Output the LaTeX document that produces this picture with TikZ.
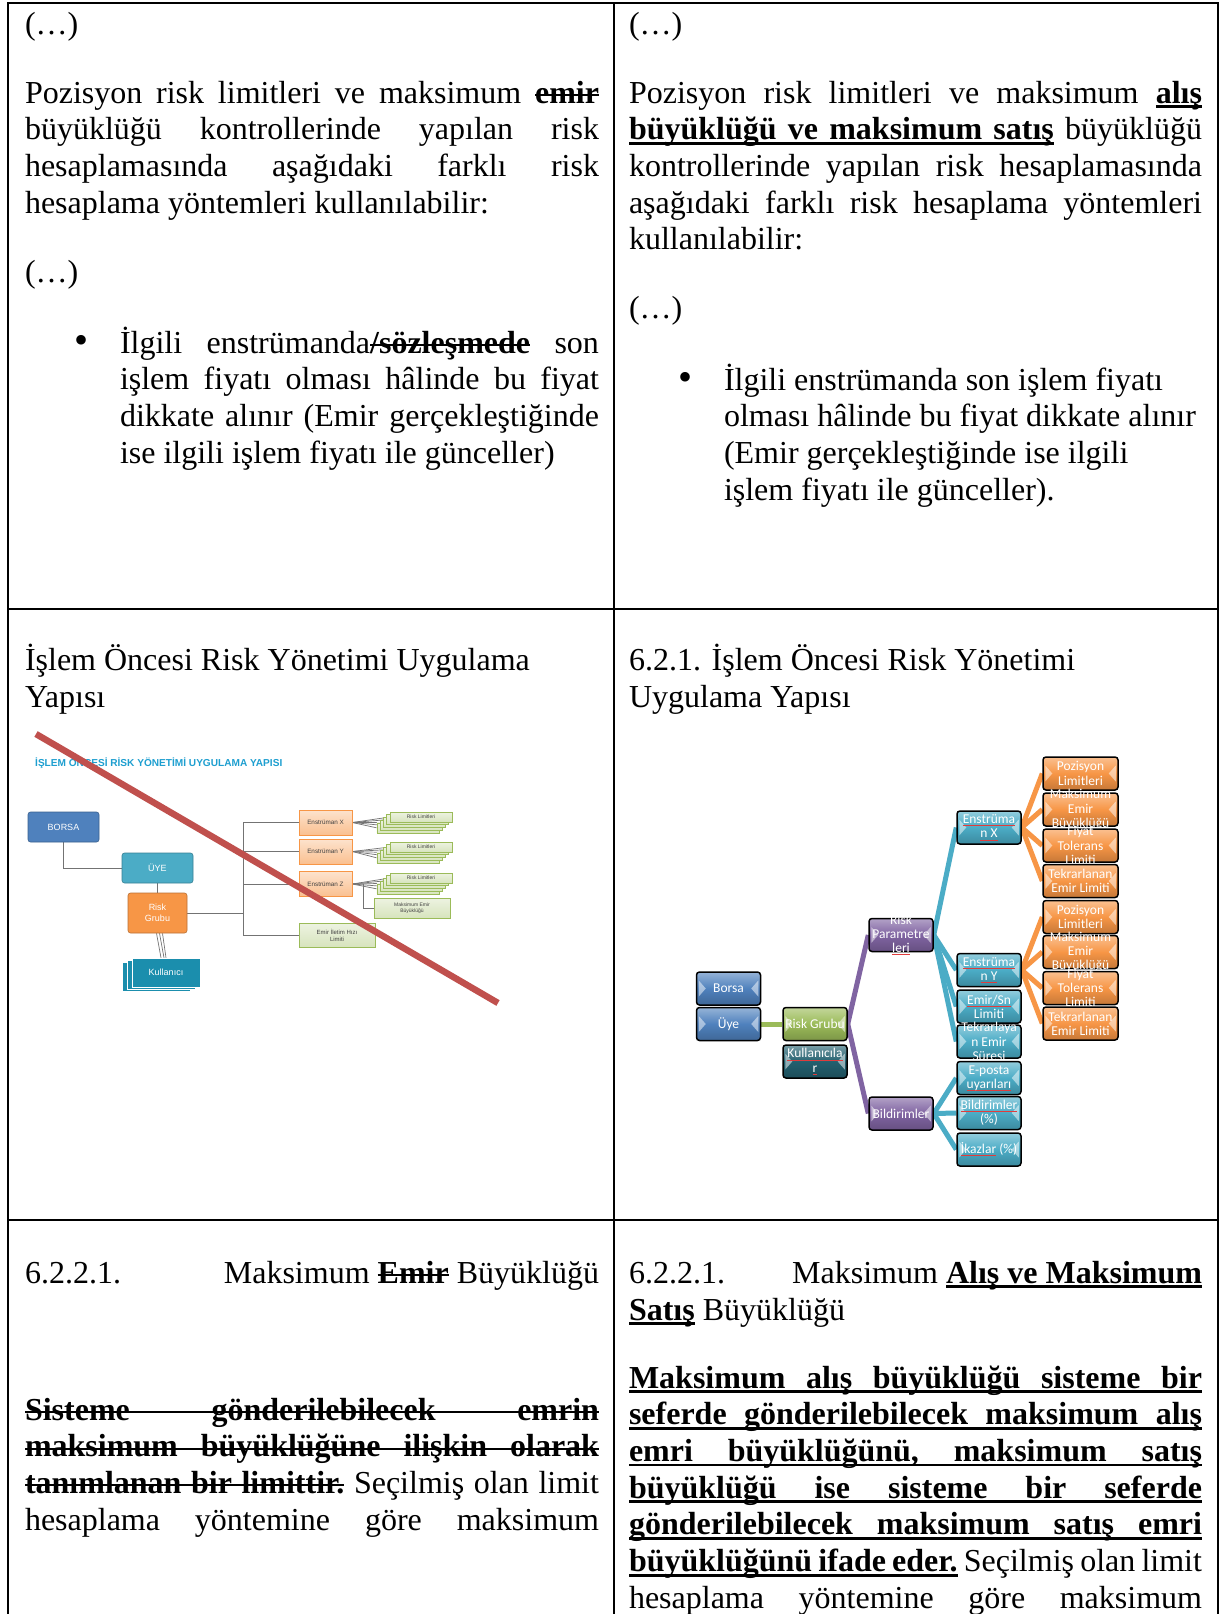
\documentclass[tikz,border=0pt]{standalone}
\usepackage{fontspec}
\setmainfont{Liberation Serif}
\newfontfamily\lsans{Liberation Sans}
\newfontfamily\carl{Carlito}
% manual underline / strike-out that follow stretched spaces
\newcommand\myU[1]{\setbox0\hbox{#1}\rlap{\vrule height -2.2pt depth 5pt width \wd0}\box0\relax}
\newcommand\myUs{\leaders\hrule height -2.2pt depth 5pt\hskip\fontdimen2\font plus\fontdimen3\font minus\fontdimen4\font\relax}
\newcommand\myS[1]{\setbox0\hbox{#1}\rlap{\vrule height 9.2pt depth -7.2pt width \wd0}\box0\relax}
\newcommand\mySs{\leaders\hrule height 9.2pt depth -7.2pt\hskip\fontdimen2\font plus\fontdimen3\font minus\fontdimen4\font\relax}
% spell-check mark under a word
\newcommand\sq[1]{\setbox0\hbox{#1}\rlap{\color{spellred}\vrule height -1.6pt depth 2.3pt width \wd0}\box0\relax}
\definecolor{spellred}{HTML}{E03C3C}
\definecolor{sBlue}{HTML}{4F81BD}
\definecolor{sTeal}{HTML}{4BACC6}
\definecolor{sOrg}{HTML}{F79646}
\definecolor{sKul}{HTML}{1B8EAD}
\definecolor{sOrangeL}{HTML}{FAC090}
\definecolor{sGreen}{HTML}{9BBB59}
\definecolor{sGreenL}{HTML}{D7E4BD}
\definecolor{titleblue}{HTML}{1E9FD0}
\definecolor{redline}{HTML}{C0504D}
\definecolor{gBlue}{HTML}{4F81BD}
\definecolor{gGreen}{HTML}{9BBB59}
\definecolor{gDark}{HTML}{23606F}
\definecolor{gPurple}{HTML}{8064A2}
\definecolor{gTeal}{HTML}{4BACC6}
\definecolor{gOrange}{HTML}{F79646}
\pgfdeclarelayer{bg}
\pgfdeclarelayer{paper}
\pgfsetlayers{paper,bg,main}
\tikzset{
  tx/.style={anchor=base west, inner sep=0pt, outer sep=0pt, font=\fontsize{32}{36}\selectfont},
  txe/.style={anchor=base east, inner sep=0pt, outer sep=0pt, font=\fontsize{32}{36}\selectfont},
  rule/.style={line width=2pt, black},
  sbox/.style={rounded corners=2.5pt, draw=#1!75!black, fill=#1, line width=0.6pt, text=white,
    font=\lsans\fontsize{9}{10.5}\selectfont, inner sep=0pt, align=center},
  kbox/.style={fill=sKul, draw=white, line width=0.5pt, minimum width=68pt, minimum height=29pt,
    text=white, font=\lsans\fontsize{9}{10}\selectfont, inner sep=0pt},
  ebox/.style={draw=sOrg, line width=0.5pt, top color=sOrangeL!45!white, bottom color=sOrangeL,
    text=black!75, font=\lsans\fontsize{6.3}{7}\selectfont, minimum width=53pt, minimum height=25pt,
    inner sep=0pt, align=center},
  lbox/.style={draw=sGreen, line width=0.45pt, top color=sGreenL!45!white, bottom color=sGreenL,
    text=black!75, font=\lsans\fontsize{5}{6}\selectfont, inner sep=0pt, align=center},
  gline/.style={draw=black!55, line width=0.7pt},
  gbox/.style={rounded corners=3pt, draw=black, line width=1.5pt, top color=#1!60!white,
    bottom color=#1!80!black, middle color=#1, minimum width=64pt, minimum height=33pt, inner sep=0pt},
  gtext/.style={text=white, font=\carl\fontsize{13.5}{14.3}\selectfont, align=center, inner sep=0pt},
  conn/.style={line width=5pt, draw=#1},
}
\newcommand\chev[1]{%
  \fill[white,opacity=0.5] ([shift={(3,-8)}]#1.west) -- ([shift={(3,8)}]#1.west) -- ([shift={(10,0)}]#1.west) -- cycle;
  \fill[white,opacity=0.5] ([shift={(-3,-8)}]#1.east) -- ([shift={(-3,8)}]#1.east) -- ([shift={(-10,0)}]#1.east) -- cycle;}
\newcommand\gb[5][]{%
  \node[gbox=#4,#1] (#2) at (#3) {};
  \chev{#2}
  \node[gtext] (#2t) at (#2.center) {#5};}
\newcommand\bul{\raisebox{-0.5pt}{\scalebox{1.25}{\textbullet}}}
\begin{document}
\begin{tikzpicture}[x=1pt,y=-1pt]
\useasboundingbox (0,0) rectangle (1219,1614);
\begin{pgfonlayer}{paper}
\fill[white] (0,0) rectangle (1219,1614);
\end{pgfonlayer}
% ---------------- table rules
\draw[rule] (7,3) -- (1219,3);
\draw[rule] (8,2) -- (8,1614);
\draw[rule] (614,2) -- (614,1614);
\draw[rule] (1218,2) -- (1218,1614);
\draw[rule] (8,609) -- (1218,609);
\draw[rule] (8,1220) -- (1218,1220);
% ---------------- row 1 left
\node[tx] (a1) at (25,34) {(…)};
\node[tx] (a2) at (25,103) {\makebox[574pt][s]{Pozisyon risk limitleri ve maksimum \textbf{\myS{emir}}}};
\node[tx] (a3) at (25,139.7) {\makebox[574pt][s]{büyüklüğü kontrollerinde yapılan risk}};
\node[tx] (a4) at (25,176.4) {\makebox[574pt][s]{hesaplamasında aşağıdaki farklı risk}};
\node[tx] (a5) at (25,213.1) {hesaplama yöntemleri kullanılabilir:};
\node[tx] (a6) at (25,282) {(…)};
\node[tx] (a7) at (74,353) {\bul};
\node[tx] (a8) at (120,353) {\makebox[479pt][s]{İlgili enstrümanda\textbf{\myS{/sözleşmede}} son}};
\node[tx] (a9) at (120,389.7) {\makebox[479pt][s]{işlem fiyatı olması hâlinde bu fiyat}};
\node[tx] (a10) at (120,426.4) {\makebox[479pt][s]{dikkate alınır (Emir gerçekleştiğinde}};
\node[tx] (a11) at (120,463.1) {ise ilgili işlem fiyatı ile günceller)};
% ---------------- row 1 right
\node[tx] (b1) at (629,34) {(…)};
\node[tx] (b2) at (629,103) {\makebox[573pt][s]{Pozisyon risk limitleri ve maksimum \textbf{\myU{alış}}}};
\node[tx] (b3) at (629,139.7) {\makebox[573pt][s]{\textbf{\myU{büyüklüğü}\myUs\myU{ve}\myUs\myU{maksimum}\myUs\myU{satış}} büyüklüğü}};
\node[tx] (b4) at (629,176.4) {\makebox[573pt][s]{kontrollerinde yapılan risk hesaplamasında}};
\node[tx] (b5) at (629,213.1) {\makebox[573pt][s]{aşağıdaki farklı risk hesaplama yöntemleri}};
\node[tx] (b6) at (629,249.8) {kullanılabilir:};
\node[tx] (b7) at (629,318) {(…)};
\node[tx] (b8) at (678,390) {\bul};
\node[tx] (b9) at (724,390) {İlgili enstrümanda son işlem fiyatı};
\node[tx] (b10) at (724,426.7) {olması hâlinde bu fiyat dikkate alınır};
\node[tx] (b11) at (724,463.4) {(Emir gerçekleştiğinde ise ilgili};
\node[tx] (b12) at (724,500.1) {işlem fiyatı ile günceller).};
% ---------------- row 2 headings
\node[tx] (c1) at (25,670) {İşlem Öncesi Risk Yönetimi Uygulama};
\node[tx] (c2) at (25,707) {Yapısı};
\node[tx] (d1) at (629,670) {6.2.1. İşlem Öncesi Risk Yönetimi};
\node[tx] (d2) at (629,707) {Uygulama Yapısı};
% ---------------- row 3 left
\node[tx] (e1) at (25,1283) {6.2.2.1.};
\node[txe] (e2) at (599,1283) {Maksimum \textbf{\myS{Emir}} Büyüklüğü};
\node[tx] (e3) at (25,1420) {\makebox[574pt][s]{\textbf{\myS{Sisteme}\mySs\myS{gönderilebilecek}\mySs\myS{emrin}}}};
\node[tx] (e4) at (25,1456.7) {\makebox[574pt][s]{\textbf{\myS{maksimum}\mySs\myS{büyüklüğüne}\mySs\myS{ilişkin}\mySs\myS{olarak}}}};
\node[tx] (e5) at (25,1493.4) {\makebox[574pt][s]{\textbf{\myS{tanımlanan}\mySs\myS{bir}\mySs\myS{limittir.}} Seçilmiş olan limit}};
\node[tx] (e6) at (25,1530.1) {\makebox[574pt][s]{hesaplama yöntemine göre maksimum}};
% ---------------- row 3 right
\node[tx] (f1) at (629,1283) {6.2.2.1.};
\node[txe] (f2) at (1202,1283) {Maksimum \textbf{\myU{Alış}\myUs\myU{ve}\myUs\myU{Maksimum}}};
\node[tx] (f3) at (629,1320) {\textbf{\myU{Satış}} Büyüklüğü};
\node[tx] (f4) at (629,1388) {\makebox[573pt][s]{\textbf{\myU{Maksimum}\myUs\myU{alış}\myUs\myU{büyüklüğü}\myUs\myU{sisteme}\myUs\myU{bir}}}};
\node[tx] (f5) at (629,1424.7) {\makebox[573pt][s]{\textbf{\myU{seferde}\myUs\myU{gönderilebilecek}\myUs\myU{maksimum}\myUs\myU{alış}}}};
\node[tx] (f6) at (629,1461.4) {\makebox[573pt][s]{\textbf{\myU{emri}\myUs\myU{büyüklüğünü,}\myUs\myU{maksimum}\myUs\myU{satış}}}};
\node[tx] (f7) at (629,1498.1) {\makebox[573pt][s]{\textbf{\myU{büyüklüğü}\myUs\myU{ise}\myUs\myU{sisteme}\myUs\myU{bir}\myUs\myU{seferde}}}};
\node[tx] (f8) at (629,1534.8) {\makebox[573pt][s]{\textbf{\myU{gönderilebilecek}\myUs\myU{maksimum}\myUs\myU{satış}\myUs\myU{emri}}}};
\node[tx] (f9) at (629,1571.5) {\makebox[573pt][s]{\textbf{\myU{büyüklüğünü}\myUs\myU{ifade}\myUs\myU{eder.}} Seçilmiş olan limit}};
\node[tx] (f10) at (629,1608.2) {\makebox[573pt][s]{hesaplama yöntemine göre maksimum}};
% ---------------- small (old) diagram
\node[anchor=west, inner sep=0pt, text=titleblue, font=\lsans\bfseries\fontsize{10.1}{11}\selectfont] (stitle) at (35,763) {İŞLEM ÖNCESİ RİSK YÖNETİMİ UYGULAMA YAPISI};
\node[sbox=sBlue, minimum width=71pt, minimum height=30pt] (borsa) at (63.5,827) {BORSA};
\node[sbox=sTeal, minimum width=71pt, minimum height=30pt] (uye) at (157.5,868) {ÜYE};
\node[sbox=sOrg, minimum width=59pt, minimum height=40pt] (rg) at (157.5,913) {Risk\\Grubu};
\node[kbox] (kulb) at (156,976.5) {};
\node[kbox] (kulm) at (161,974.5) {};
\node[kbox] (kul) at (166,972.5) {Kullanıcı};
\node[ebox] (ex) at (325.5,822.5) {Enstrüman X};
\node[ebox] (ey) at (325.5,851.5) {Enstrüman Y};
\node[ebox] (ez) at (325.5,884) {Enstrüman Z};
\node[lbox, minimum width=76pt, minimum height=24pt, font=\lsans\fontsize{6}{7}\selectfont] (eh) at (337,935) {Emir İletim Hızı\\Limiti};
\foreach \k in {4,3,2,1} {
  \node[lbox, minimum width=62pt, minimum height=10pt] (sx\k) at ({421-3.3*\k},{817+2.7*\k}) {};}
\node[lbox, minimum width=62pt, minimum height=10pt] (sx0) at (421,817) {Risk Limitleri};
\foreach \k in {4,3,2,1} {
  \node[lbox, minimum width=62pt, minimum height=10pt] (sy\k) at ({421-3.3*\k},{847+2.7*\k}) {};}
\node[lbox, minimum width=62pt, minimum height=10pt] (sy0) at (421,847) {Risk Limitleri};
\foreach \k in {4,3,2,1} {
  \node[lbox, minimum width=62pt, minimum height=10pt] (sz\k) at ({421-3.3*\k},{878+2.7*\k}) {};}
\node[lbox, minimum width=62pt, minimum height=10pt] (sz0) at (421,878) {Risk Limitleri};
\node[lbox, minimum width=76pt, minimum height=20pt] (mx) at (412,908) {Maksimum Emir\\Büyüklüğü};
\coordinate (tr) at (243,913);
\coordinate (zf) at (363,884);
\begin{pgfonlayer}{bg}
  \draw[gline] (borsa.south) |- (uye.west);
  \draw[gline] (uye.south) -- (rg.north);
  \draw[gline] ([xshift=-1pt]rg.south) -- ([xshift=-5pt]kul.north);
  \draw[gline] ([xshift=2pt]rg.south) -- ([xshift=-2pt]kul.north);
  \draw[gline] ([xshift=5pt]rg.south) -- ([xshift=0pt]kul.north);
  \draw[gline] (rg.east) -- (tr);
  \draw[gline] (tr) |- (ex.west);
  \draw[gline] (tr) |- (ey.west);
  \draw[gline] (tr) |- (ez.west);
  \draw[gline] (tr) |- (eh.west);
  \foreach \k in {0,...,4} {
    \draw[gline] (ex.east) -- (sx\k.west);
    \draw[gline] (ey.east) -- (sy\k.west);
    \draw[gline] (ez.east) -- (sz\k.west);}
  \draw[gline] (zf) |- (mx.west);
\end{pgfonlayer}
\coordinate (r1) at (36,734);
\coordinate (r2) at (498,1003);
\draw[line width=6.5pt, redline] (r1) -- (r2);
% ---------------- new diagram
\gb{borsa2}{728.5,988.5}{gBlue}{Borsa}
\gb{uye2}{728.5,1024}{gBlue}{Üye}
\gb{rg2}{815,1024}{gGreen}{Risk Grubu}
\gb{kul2}{815,1061.5}{gDark}{\sq{Kullanıcıla}\\\sq{r}}
\gb{rp}{901,935}{gPurple}{Risk\\Parametre\\\sq{leri}}
\gb{bil}{901,1113.5}{gPurple}{Bildirimler}
\gb{enx}{989,827.5}{gTeal}{\sq{Enstrüma}\\\sq{n X}}
\gb{eny}{989,970}{gTeal}{\sq{Enstrüma}\\\sq{n Y}}
\gb{emsn}{989,1006.5}{gTeal}{\sq{Emir/Sn}\\Limiti}
\gb{tekr}{989,1041.5}{gTeal}{Tekrarlaya\\n Emir\\Süresi}
\gb{epos}{989,1078}{gTeal}{E-posta\\\sq{uyarıları}}
\gb{bild}{989,1113}{gTeal}{\sq{Bildirimler}\\(\%)}
\gb{ikaz}{989,1149.5}{gTeal}{\sq{İkazlar} (\%)}
\gb[minimum width=75pt]{ox1}{1080.5,773.5}{gOrange}{Pozisyon\\Limitleri}
\gb[minimum width=75pt]{ox2}{1080.5,809.5}{gOrange}{Maksimum\\Emir\\Büyüklüğü}
\gb[minimum width=75pt]{ox3}{1080.5,845.5}{gOrange}{Fiyat\\Tolerans\\Limiti}
\gb[minimum width=75pt]{ox4}{1080.5,881}{gOrange}{Tekrarlanan\\Emir Limiti}
\gb[minimum width=75pt]{oy1}{1080.5,917}{gOrange}{Pozisyon\\Limitleri}
\gb[minimum width=75pt]{oy2}{1080.5,952}{gOrange}{Maksimum\\Emir\\Büyüklüğü}
\gb[minimum width=75pt]{oy3}{1080.5,988}{gOrange}{Fiyat\\Tolerans\\Limiti}
\gb[minimum width=75pt]{oy4}{1080.5,1023.5}{gOrange}{Tekrarlanan\\Emir Limiti}
\begin{pgfonlayer}{bg}
  \draw[conn=gGreen] (uye2.east) -- (rg2.west);
  \draw[conn=gPurple] (rg2.east) -- (rp.west);
  \draw[conn=gPurple] (rg2.east) -- (bil.west);
  \foreach \n in {enx,eny,emsn,tekr} {\draw[conn=gTeal] (rp.east) -- (\n.west);}
  \foreach \n in {epos,bild,ikaz} {\draw[conn=gTeal] (bil.east) -- (\n.west);}
  \foreach \n in {ox1,ox2,ox3,ox4} {\draw[conn=gOrange] (enx.east) -- (\n.west);}
  \foreach \n in {oy1,oy2,oy3,oy4} {\draw[conn=gOrange] (eny.east) -- (\n.west);}
\end{pgfonlayer}
\end{tikzpicture}
\end{document}
